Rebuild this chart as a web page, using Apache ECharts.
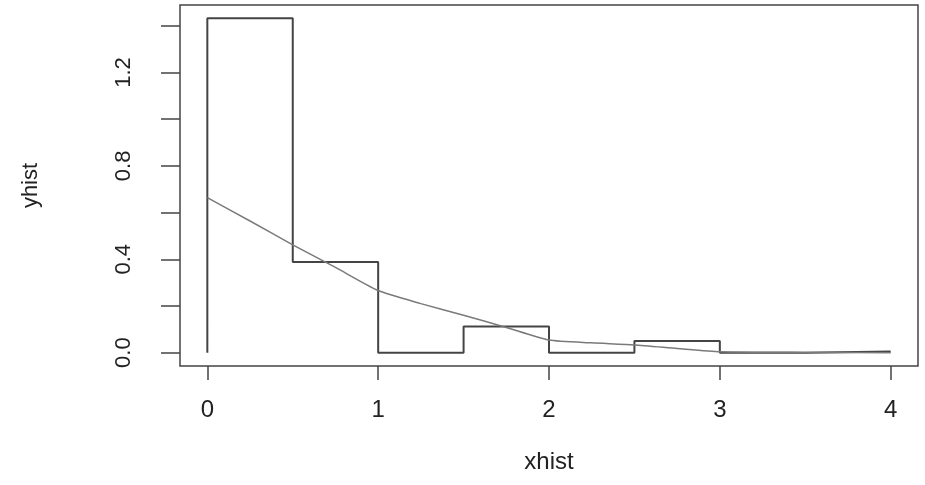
<!DOCTYPE html>
<html>
<head>
<meta charset="utf-8">
<title>xhist / yhist</title>
<style>
    html, body { margin: 0; padding: 0; background: #fff; }
    #histChart { width: 925px; height: 485px; }
</style>
</head>
<body>
<div id="histChart"></div>
<script src="https://cdn.jsdelivr.net/npm/echarts@6/dist/echarts.min.js"></script>
<script>
// 直方图台阶 (type = "s")
var xhist = [0, 0, 0.5, 1, 1.5, 2, 2.5, 3, 3.5, 4];
var yhist = [0, 1.432, 0.388, 0, 0.112, 0, 0.05, 0, 0.005, 0.005];

// 密度曲线
var curveX = [0, 0.25, 0.5, 0.75, 1, 1.25, 1.5, 1.75, 2, 2.25, 2.5, 2.75, 3, 3.5, 4];
var curveY = [0.664, 0.564, 0.462, 0.365, 0.266, 0.21, 0.16, 0.108, 0.054, 0.042, 0.033, 0.018, 0.004, 0.001, 0];

// 刻度
var xTicks = [0, 1, 2, 3, 4];
var yTicks = [0, 0.2, 0.4, 0.6, 0.8, 1.0, 1.2, 1.4];
var yLabels = [0, 0.4, 0.8, 1.2];

var chart = echarts.init(document.getElementById('histChart'));

var font = '"Liberation Sans", Arial, sans-serif';

var option = {
    animation: false,
    backgroundColor: '#fff',
    grid: {
        left: 180,
        right: 7,
        top: 5,
        bottom: 119,
        show: true,
        borderColor: '#444',
        borderWidth: 1.5
    },
    xAxis: {
        type: 'value',
        min: -0.16,
        max: 4.16,
        name: 'xhist',
        nameLocation: 'middle',
        nameGap: 84,
        nameTextStyle: { fontFamily: font, fontSize: 24, color: '#222' },
        axisLine: { show: false, onZero: false },
        splitLine: { show: false },
        axisTick: {
            show: true,
            customValues: xTicks,
            length: 14,
            lineStyle: { color: '#444', width: 1.5 }
        },
        axisLabel: {
            customValues: xTicks,
            margin: 32,
            fontFamily: font,
            fontSize: 24,
            color: '#222'
        }
    },
    yAxis: {
        type: 'value',
        min: -0.0573,
        max: 1.4893,
        name: 'yhist',
        nameLocation: 'middle',
        nameGap: 138,
        nameTextStyle: { fontFamily: font, fontSize: 22, color: '#222' },
        axisLine: { show: false, onZero: false },
        splitLine: { show: false },
        axisTick: {
            show: true,
            customValues: yTicks,
            length: 19,
            lineStyle: { color: '#444', width: 1.5 }
        },
        axisLabel: {
            customValues: yLabels,
            rotate: 90,
            margin: 45,
            fontFamily: font,
            fontSize: 22,
            color: '#222',
            formatter: function (v) { return v.toFixed(1); }
        }
    },
    series: [
        {
            type: 'line',
            step: 'end',
            symbol: 'none',
            lineStyle: { color: '#444', width: 2 },
            data: xhist.map(function (x, i) { return [x, yhist[i]]; })
        },
        {
            type: 'line',
            symbol: 'none',
            smooth: 0.2,
            lineStyle: { color: '#7a7a7a', width: 1.5 },
            data: curveX.map(function (x, i) { return [x, curveY[i]]; })
        }
    ]
};

chart.setOption(option);
window.addEventListener('resize', function () {
    chart.resize();
});
</script>
</body>
</html>
